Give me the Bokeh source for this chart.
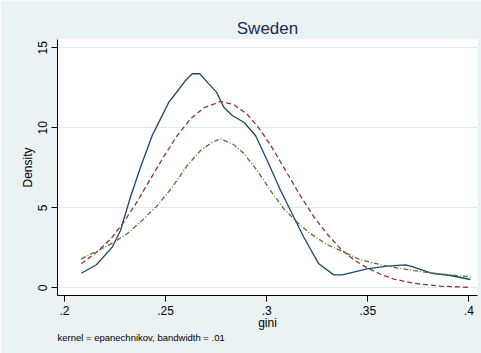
from bokeh.plotting import figure
from bokeh.models import Range1d, FixedTicker, Title
from bokeh.embed import file_html
from bokeh.resources import INLINE

# ---- data ----
kd_x = [.2083, .2158, .2236, .2277, .2326, .2376, .2434, .2475, .2516, .2549, .2599,
        .2632, .2669, .2714, .2752, .2788, .2830, .2887, .2945, .3003, .3069, .3118,
        .3184, .3258, .3332, .3374, .3497, .3596, .3687, .3720, .3819, .3909, .4008]
kd_y = [0.91, 1.44, 2.54, 3.58, 5.66, 7.54, 9.52, 10.56, 11.60, 12.13, 12.96,
        13.38, 13.38, 12.75, 12.23, 11.29, 10.77, 10.35, 9.52, 7.96, 6.08, 4.83,
        3.16, 1.50, 0.81, 0.81, 1.19, 1.35, 1.44, 1.33, 0.91, 0.77, 0.52]

norm_x = [.2083, .2162, .2228, .2293, .2360, .2425, .2491, .2557, .2623, .2689, .2772,
          .2837, .2904, .2970, .3035, .3102, .3167, .3233, .3300, .3365, .3431, .3497,
          .3563, .3629, .3728, .3860, .4008]
norm_y = [1.50, 2.25, 3.05, 4.10, 5.40, 6.80, 8.20, 9.50, 10.55, 11.25, 11.65,
          11.45, 10.85, 9.85, 8.60, 7.15, 5.75, 4.45, 3.35, 2.45, 1.75, 1.25,
          0.85, 0.55, 0.28, 0.10, 0.03]

alt_x = [.2083, .2162, .2236, .2310, .2384, .2459, .2533, .2607, .2673, .2731, .2772,
         .2837, .2887, .2953, .3019, .3085, .3151, .3217, .3300, .3382, .3464, .3596,
         .3728, .3844, .3992, .4008]
alt_y = [1.81, 2.30, 2.79, 3.38, 4.21, 5.14, 6.29, 7.64, 8.58, 9.10, 9.31,
         8.95, 8.40, 7.33, 6.08, 4.94, 4.10, 3.38, 2.70, 2.23, 1.75, 1.35,
         1.08, 0.88, 0.71, 0.66]

x_ticks = [0.2, 0.25, 0.3, 0.35, 0.4]
x_tick_labels = [".2", ".25", ".3", ".35", ".4"]
y_ticks = [0, 5, 10, 15]

title_text = "Sweden"
x_label = "gini"
y_label = "Density"
note_text = "kernel = epanechnikov, bandwidth = .01"

FONT = "Liberation Sans"
BG = "#EAF2F3"

p = figure(width=481, height=353, output_backend="svg", toolbar_location=None,
           x_range=Range1d(0.19654, 0.4043), y_range=Range1d(-0.48, 15.52),
           min_border_left=57, min_border_right=4, min_border_top=39, min_border_bottom=58)

p.background_fill_color = "white"
p.border_fill_color = BG
p.outline_line_color = None

p.title.text = title_text
p.title.align = "center"
p.title.text_font = FONT
p.title.text_font_size = "17px"
p.title.text_font_style = "normal"
p.title.text_color = "#1E2B4F"
p.title.standoff = 4

# axes
for ax in (p.xaxis[0], p.yaxis[0]):
    ax.axis_line_color = "black"
    ax.axis_line_width = 1
    ax.major_tick_line_color = "black"
    ax.major_tick_out = 6
    ax.major_tick_in = 0
    ax.minor_tick_line_color = None
    ax.major_label_text_font = FONT
    ax.major_label_text_font_size = "12px"
    ax.major_label_text_color = "black"
    ax.axis_label_text_font = FONT
    ax.axis_label_text_font_size = "12px"
    ax.axis_label_text_font_style = "normal"
    ax.axis_label_text_color = "black"

p.xaxis.ticker = FixedTicker(ticks=x_ticks)
p.xaxis.major_label_overrides = {t: l for t, l in zip(x_ticks, x_tick_labels)}
p.xaxis.axis_label = x_label
p.xaxis.major_label_standoff = 4
p.xaxis.axis_label_standoff = -2

p.yaxis.ticker = FixedTicker(ticks=y_ticks)
p.yaxis.axis_label = y_label
p.yaxis.major_label_orientation = "vertical"
p.yaxis.major_label_standoff = 4
p.yaxis.axis_label_standoff = 1

p.xgrid.grid_line_color = None
p.ygrid.grid_line_color = "#E0E9EB"
p.ygrid.grid_line_width = 1

# curves
p.line(kd_x, kd_y, line_color="#1A476F", line_width=1.3)
p.line(norm_x, norm_y, line_color="#90353B", line_width=1.3, line_dash="5 3")
p.line(alt_x, alt_y, line_color="#55752F", line_width=1.3, line_dash="5 2 1 2")

note = Title(text=note_text, align="left", text_font=FONT, text_font_size="9.5px",
             text_font_style="normal", text_color="black", standoff=-5)
p.add_layout(note, "below")

open("out.html", "w").write(file_html(p, INLINE))
